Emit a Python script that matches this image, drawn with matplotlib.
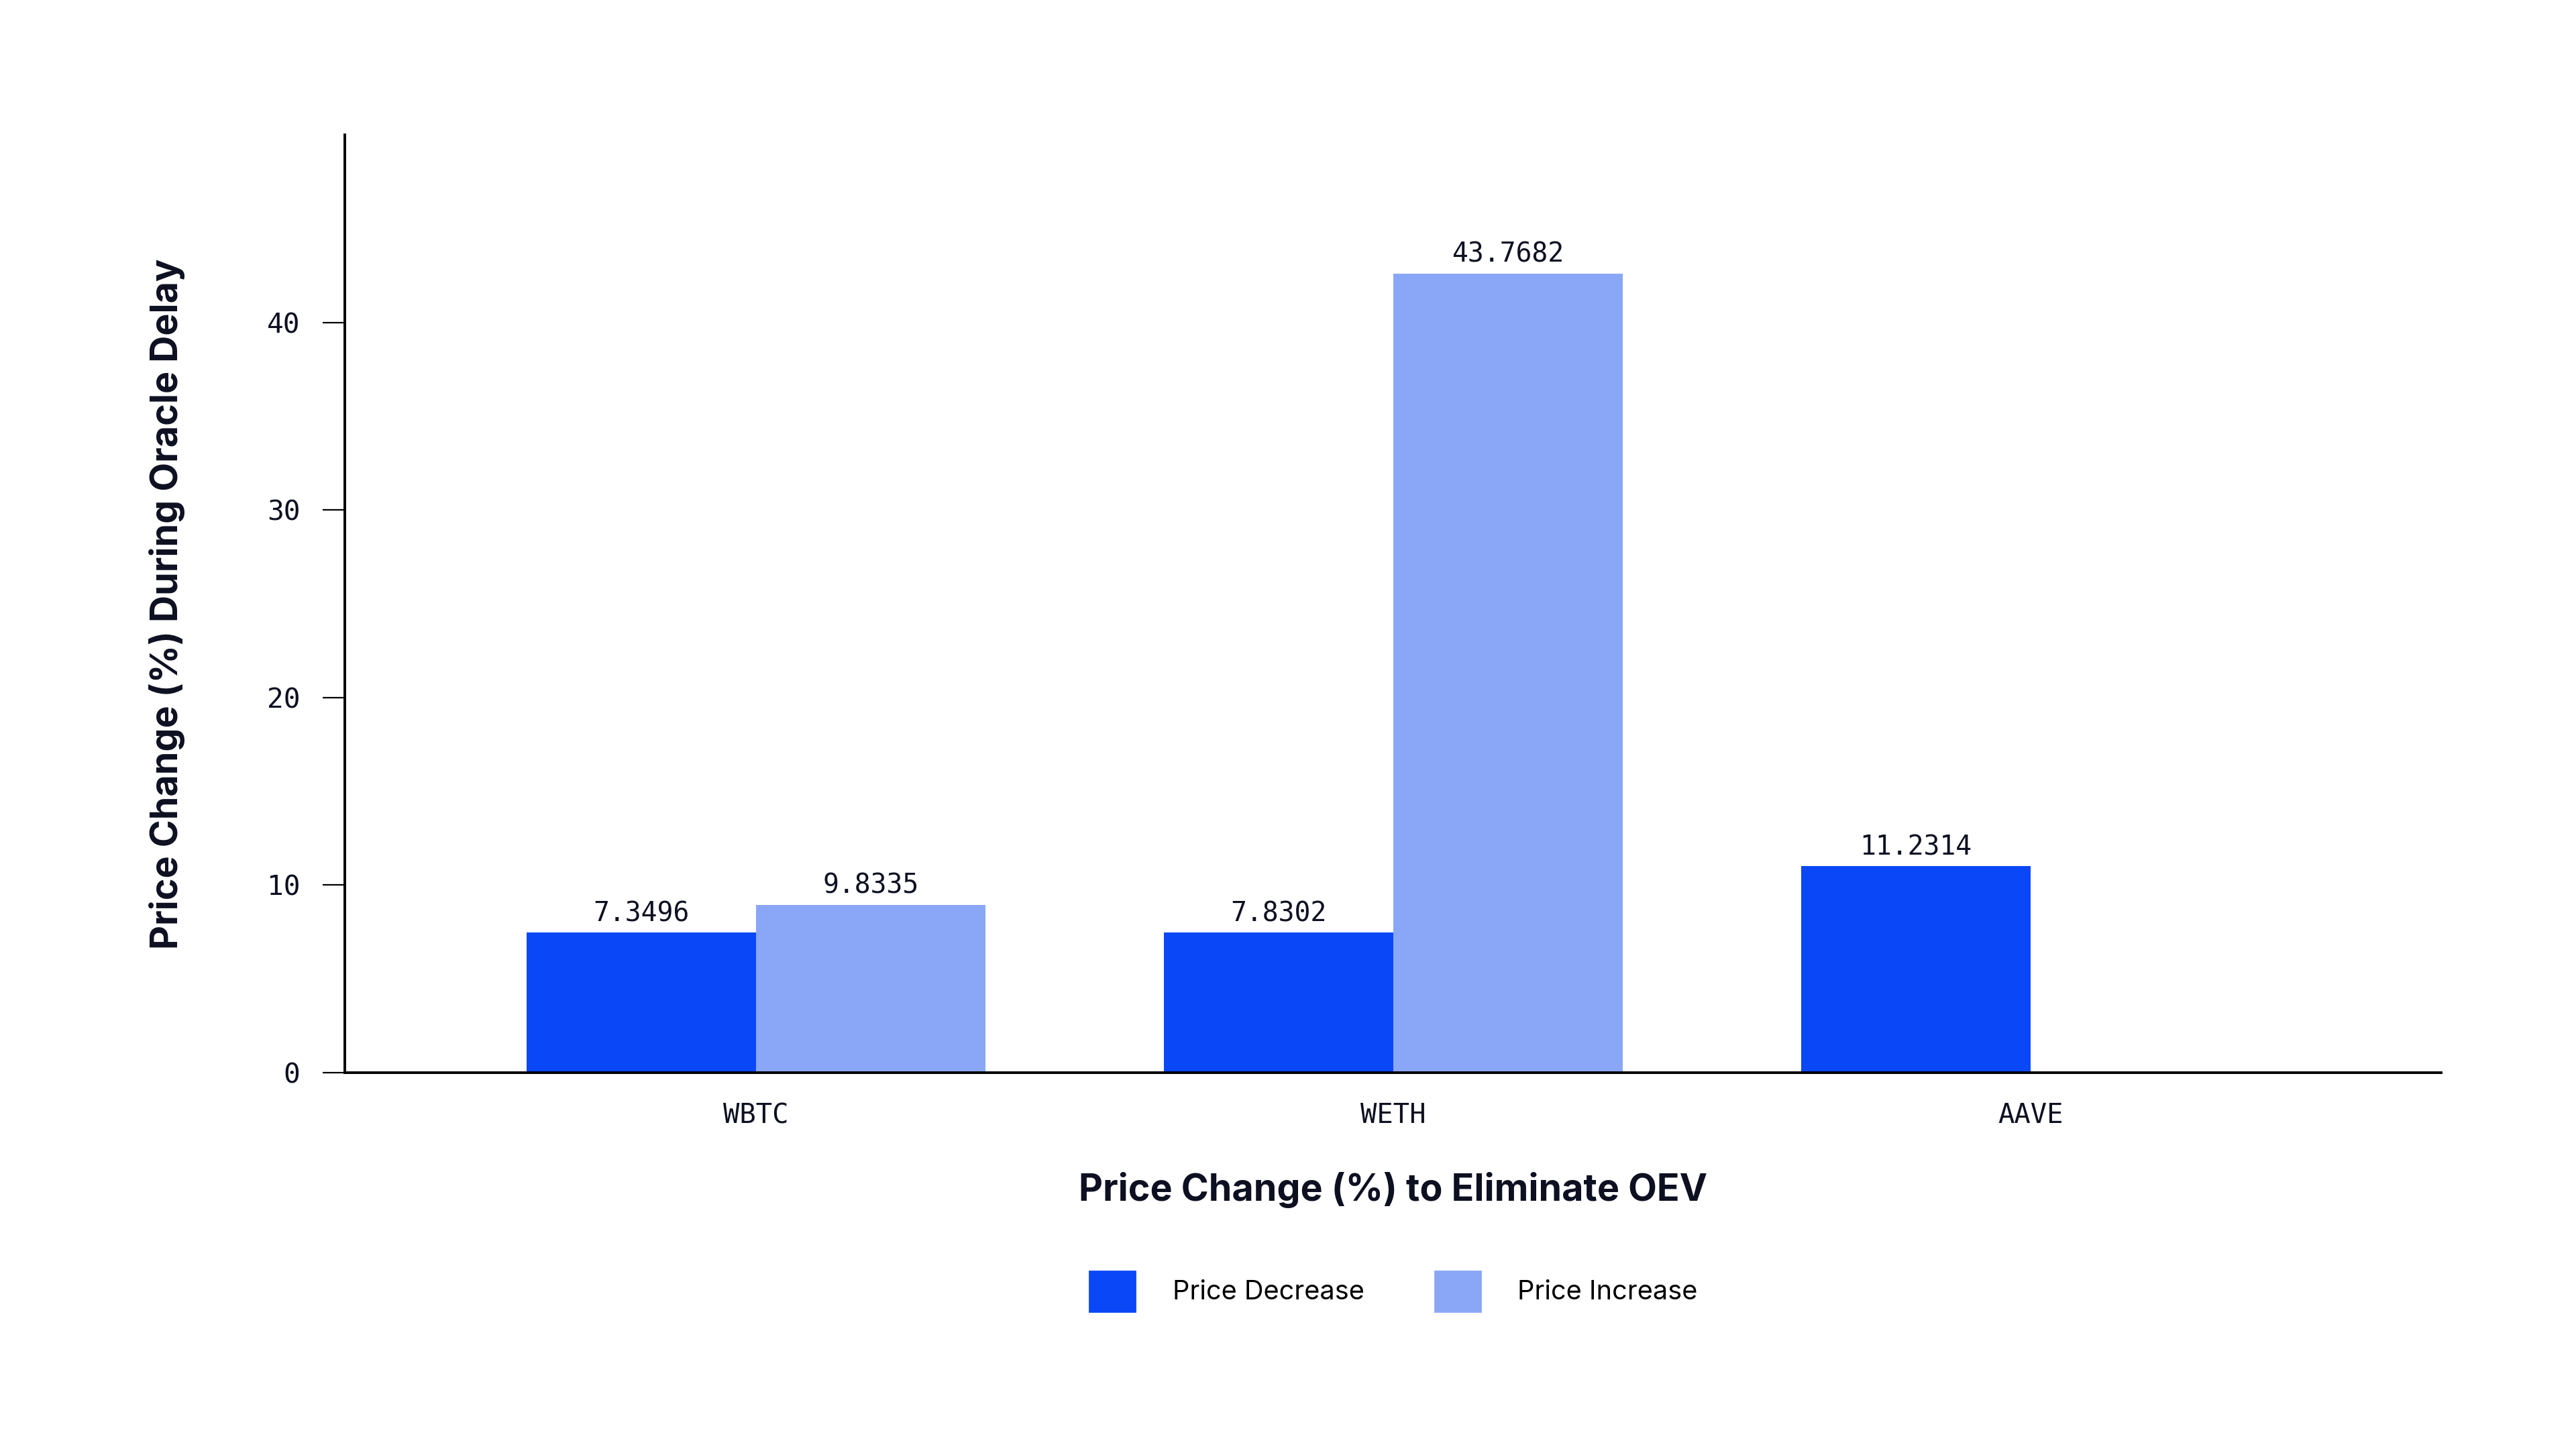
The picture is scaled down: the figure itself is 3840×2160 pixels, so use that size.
import numpy as np
import matplotlib
matplotlib.use("Agg")
import matplotlib.pyplot as plt
from matplotlib.patches import Patch

assets = ["WBTC", "WETH", "AAVE"]
# bar heights as drawn in the chart
decrease_heights = [7.46, 7.46, 11.0]
increase_heights = [8.95, 42.6, np.nan]
# printed labels above the bars
decrease_labels = ["7.3496", "7.8302", "11.2314"]
increase_labels = ["9.8335", "43.7682", ""]
y_ticks = [0, 10, 20, 30, 40]

dark_blue = "#0a47f7"
light_blue = "#8aa6f7"
ink = "#0d1021"
mono = "DejaVu Sans Mono"
sans = "Inter"

fig = plt.figure(figsize=(19.2, 10.8), dpi=200)
ax = fig.add_axes([0.1339, 0.2597, 0.8138, 0.6472])

x = np.arange(len(assets))
w = 0.36
b1 = ax.bar(x - w / 2, decrease_heights, w, color=dark_blue, label="Price Decrease")
b2 = ax.bar(x + w / 2, increase_heights, w, color=light_blue, label="Price Increase")

for bars, labels in [(b1, decrease_labels), (b2, increase_labels)]:
    for rect, lab in zip(bars, labels):
        h = rect.get_height()
        if not lab or np.isnan(h):
            continue
        ax.annotate(lab, (rect.get_x() + rect.get_width() / 2, h),
                    xytext=(0, 3), textcoords="offset points",
                    ha="center", va="bottom", fontsize=14.3,
                    family=mono, color=ink)

ax.set_xlim(-0.645, 2.645)
ax.set_ylim(0, 50)
ax.set_yticks(y_ticks)
ax.set_xticks(x)
ax.set_xticklabels(assets)

for s in ["top", "right"]:
    ax.spines[s].set_visible(False)
for s in ["left", "bottom"]:
    ax.spines[s].set_linewidth(1.4)
    ax.spines[s].set_color("black")

ax.tick_params(axis="y", length=12, width=0.8, pad=12, labelsize=14.8, labelcolor=ink)
ax.tick_params(axis="x", length=0, pad=16, labelsize=14.6, labelcolor=ink)
for lab in ax.get_xticklabels() + ax.get_yticklabels():
    lab.set_family(mono)

ax.set_xlabel("Price Change (%) to Eliminate OEV", fontsize=20, fontweight="bold",
              family=sans, color=ink, labelpad=23)
ax.set_ylabel("Price Change (%) During Oracle Delay", fontsize=20, fontweight="bold",
              family=sans, color=ink, labelpad=44)

handles = [Patch(color=dark_blue, label="Price Decrease"),
           Patch(color=light_blue, label="Price Increase")]
fig.legend(handles=handles, loc="center", bbox_to_anchor=(0.541, 0.109), ncol=2,
           frameon=False, prop={"family": sans, "size": 14.3},
           handlelength=1.71, handleheight=1.95, handletextpad=1.4, columnspacing=2.65)

fig.savefig("out.png", dpi=200, facecolor="white")
